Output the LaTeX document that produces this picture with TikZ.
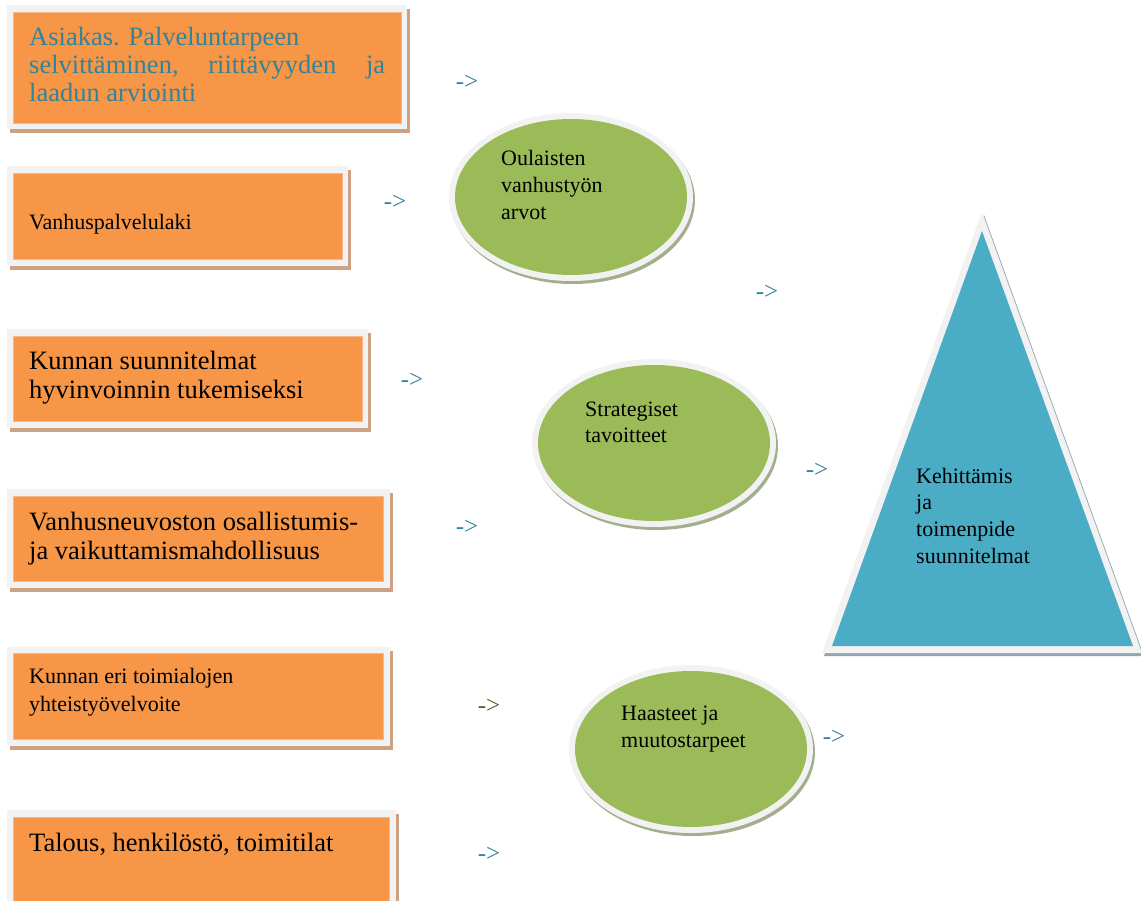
\documentclass[tikz,border=0pt]{standalone}
\usepackage{fontspec}
\setmainfont{Liberation Serif}
\definecolor{orng}{HTML}{F79646}
\definecolor{orngedge}{HTML}{F9B58A}
\definecolor{grn}{HTML}{9BBB59}
\definecolor{blu}{HTML}{4BACC6}
\definecolor{frm}{HTML}{F2F2F2}
\definecolor{tanshadow}{HTML}{CFA183}
\definecolor{grnshadow}{HTML}{A3AE8F}
\definecolor{blushadow}{HTML}{8FA8B0}
\definecolor{tealtxt}{HTML}{31849B}
\definecolor{olivetxt}{HTML}{4F6228}
\begin{document}
\begin{tikzpicture}[x=1pt,y=-1pt,
  boxshadow/.style={fill=tanshadow},
  boxframe/.style={fill=frm},
  boxfill/.style={fill=orng,draw=orngedge,line width=0.8pt},
  ellshadow/.style={fill=grnshadow},
  ellframe/.style={fill=frm},
  ellfill/.style={fill=grn},
  txt/.style={inner sep=0pt,anchor=base west,text=black},
  bigtxt/.style={txt,font=\fontsize{26.5}{29}\selectfont},
  smalltxt/.style={txt,font=\fontsize{22}{27}\selectfont},
  arr/.style={inner sep=0pt,anchor=center,text=tealtxt,font=\fontsize{25}{27}\selectfont}
]
\useasboundingbox (0,0) rectangle (1141,901);
\clip (0,0) rectangle (1141,901);

% ---- orange boxes ----
\foreach \xa/\ya/\xb/\yb/\xc/\yc/\xd/\yd in {
  7/5/407/129/13/12/401/123,
  7/166/348/266/13/173/342/259,
  7/329/368/428/13/336/362/421,
  7/489/390/588/13/496/383/581,
  7/647/390/746/13/653/383/739,
  7/810/396/915/13/817/389/910}{
  \fill[boxshadow] (\xa+3,\ya+4) rectangle (\xb+3,\yb+4);
  \fill[boxframe] (\xa,\ya) rectangle (\xb,\yb);
  \path[boxfill] (\xc,\yc) rectangle (\xd,\yd);
}

% ---- ellipses ----
\foreach \cx/\cy in {571/197, 654/443, 691/749}{
  \fill[ellshadow] (\cx+2,\cy+3) ellipse [x radius=122, y radius=84];
  \fill[ellframe] (\cx,\cy) ellipse [x radius=122, y radius=84];
  \fill[ellfill] (\cx,\cy) ellipse [x radius=116, y radius=78];
}

% ---- triangle ----
\fill[blushadow] (984,215) -- (1144,656) -- (824,656) -- cycle;
\fill[frm] (982,212) -- (1142,653) -- (822,653) -- cycle;
\fill[blu] (982,231) -- (1133,646) -- (832,646) -- cycle;

% ---- box texts ----
\node[bigtxt,text=tealtxt] (t1) at (29,46) {\vtop{\baselineskip=28pt
  \hbox{Asiakas. Palveluntarpeen}
  \hbox to 356pt{selvittäminen,\hfill riittävyyden\hfill ja}
  \hbox{laadun arviointi}}};
\node[smalltxt] (t2) at (29,230) {Vanhuspalvelulaki};
\node[bigtxt] (t3) at (29,370) {\vtop{\baselineskip=29pt
  \hbox{Kunnan suunnitelmat}
  \hbox{hyvinvoinnin tukemiseksi}}};
\node[bigtxt] (t4) at (29,530) {\vtop{\baselineskip=29pt
  \hbox{Vanhusneuvoston osallistumis-}
  \hbox{ja vaikuttamismahdollisuus}}};
\node[smalltxt] (t5) at (29,683) {\vtop{\baselineskip=28pt
  \hbox{Kunnan eri toimialojen}
  \hbox{yhteistyövelvoite}}};
\node[bigtxt] (t6) at (29,851) {Talous, henkilöstö, toimitilat};

% ---- ellipse texts ----
\node[smalltxt] (e1) at (501,166) {\vtop{\baselineskip=27pt
  \hbox{Oulaisten}\hbox{vanhustyön}\hbox{arvot}}};
\node[smalltxt] (e2) at (585,416) {\vtop{\baselineskip=27pt
  \hbox{Strategiset}\hbox{tavoitteet}}};
\node[smalltxt] (e3) at (621,720) {\vtop{\baselineskip=27pt
  \hbox{Haasteet ja}\hbox{muutostarpeet}}};

% ---- triangle text ----
\node[smalltxt] (k) at (916,483) {\vtop{\baselineskip=26.7pt
  \hbox{Kehittämis}\hbox{ja}\hbox{toimenpide}\hbox{suunnitelmat}}};

% ---- "->" labels ----
\node[arr] (a1) at (467,82) {->};
\node[arr] (a2) at (395,202) {->};
\node[arr] (a3) at (767,292) {->};
\node[arr] (a4) at (412,380) {->};
\node[arr] (a5) at (817,470) {->};
\node[arr] (a6) at (467,527) {->};
\node[arr,text=olivetxt] (a7) at (489,706) {->};
\node[arr] (a8) at (834,737) {->};
\node[arr] (a9) at (489,854) {->};
\end{tikzpicture}
\end{document}
